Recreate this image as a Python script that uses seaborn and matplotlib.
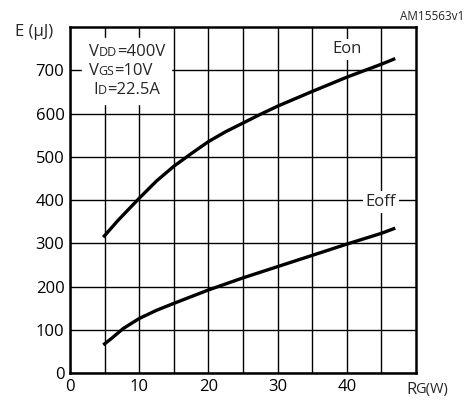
import numpy as np
import pandas as pd
import seaborn as sns
import matplotlib.pyplot as plt
from matplotlib.offsetbox import TextArea, HPacker, VPacker, AnchoredOffsetbox

# gate resistance (ohm) vs switching energy (uJ)
rg_on = [4.8, 7, 10, 12.5, 15, 17.5, 20, 22.5, 25, 27.5, 30, 35, 40, 45, 47]
e_on = [314, 354, 404, 444, 478, 507, 535, 558, 578, 598, 617, 651, 684, 714, 727]

rg_off = [4.8, 6, 7.7, 10, 12.5, 15, 20, 25, 30, 35, 40, 45, 47]
e_off = [65, 80, 103, 126, 145, 161, 192, 220, 246, 272, 298, 323, 335]

df = pd.concat([
    pd.DataFrame({"rg": rg_on, "e": e_on, "curve": "Eon"}),
    pd.DataFrame({"rg": rg_off, "e": e_off, "curve": "Eoff"}),
])

sns.set_style("white")
plt.rcParams['font.family'] = ['Open Sans', 'DejaVu Sans']

fig = plt.figure(figsize=(4.75, 4.03), dpi=100)
ax = fig.add_axes([0.1474, 0.0744, 0.7284, 0.8586])

sns.lineplot(data=df, x="rg", y="e", units="curve", estimator=None,
             color="black", lw=2.4, ax=ax, sort=False, solid_capstyle="butt")

ax.set_xlim(0, 50)
ax.set_ylim(0, 800)
ax.set_xticks([0, 10, 20, 30, 40])
ax.set_xticks(np.arange(5, 50, 10), minor=True)
ax.set_yticks(np.arange(0, 701, 100))
ax.grid(True, which="both", color="black", lw=1.0)
ax.tick_params(which="both", length=0, labelsize=12, colors="black", pad=4)
ax.set_xlabel("")
ax.set_ylabel("")
for s in ax.spines.values():
    s.set_visible(True)
    s.set_color("black")
    s.set_linewidth(1.8)

# axis titles in the corners
fig.text(15 / 475, 1 - 32 / 403, "E (\u03bcJ)", fontsize=12, va="center", ha="left")
fig.text(406 / 475, 1 - 390 / 403, "R", fontsize=12, va="center", ha="left")
fig.text(415 / 475, 1 - 390 / 403, "G(W)", fontsize=10.5, va="center", ha="left")
fig.text(464 / 475, 1 - 17 / 403, "AM15563v1", fontsize=8.5, va="center", ha="right")


def sub_line(big, small, rest):
    return HPacker(children=[TextArea(big, textprops=dict(fontsize=12)),
                             TextArea(small, textprops=dict(fontsize=9)),
                             TextArea(rest, textprops=dict(fontsize=12))],
                   align="baseline", pad=0, sep=0)


lines = VPacker(children=[sub_line("V", "DD", "=400V"),
                          sub_line("V", "GS", "=10V"),
                          HPacker(children=[TextArea(" ", textprops=dict(fontsize=12)),
                                            sub_line("I", "D", "=22.5A")],
                                  align="baseline", pad=0, sep=0)],
                align="left", pad=0, sep=2)
box = AnchoredOffsetbox(loc="upper left", child=lines, pad=0.45, borderpad=0,
                        bbox_to_anchor=(1.8, 775), bbox_transform=ax.transData,
                        frameon=True)
box.patch.set_edgecolor("white")
box.patch.set_facecolor("white")
box.zorder = 5
ax.add_artist(box)

ax.text(40.1, 748, "Eon", fontsize=12, ha="center", va="center", zorder=5,
        bbox=dict(facecolor="white", edgecolor="none", pad=2))
ax.text(44.9, 396, "Eoff", fontsize=12, ha="center", va="center", zorder=5,
        bbox=dict(facecolor="white", edgecolor="none", pad=2))

fig.savefig("out.png", dpi=100)
